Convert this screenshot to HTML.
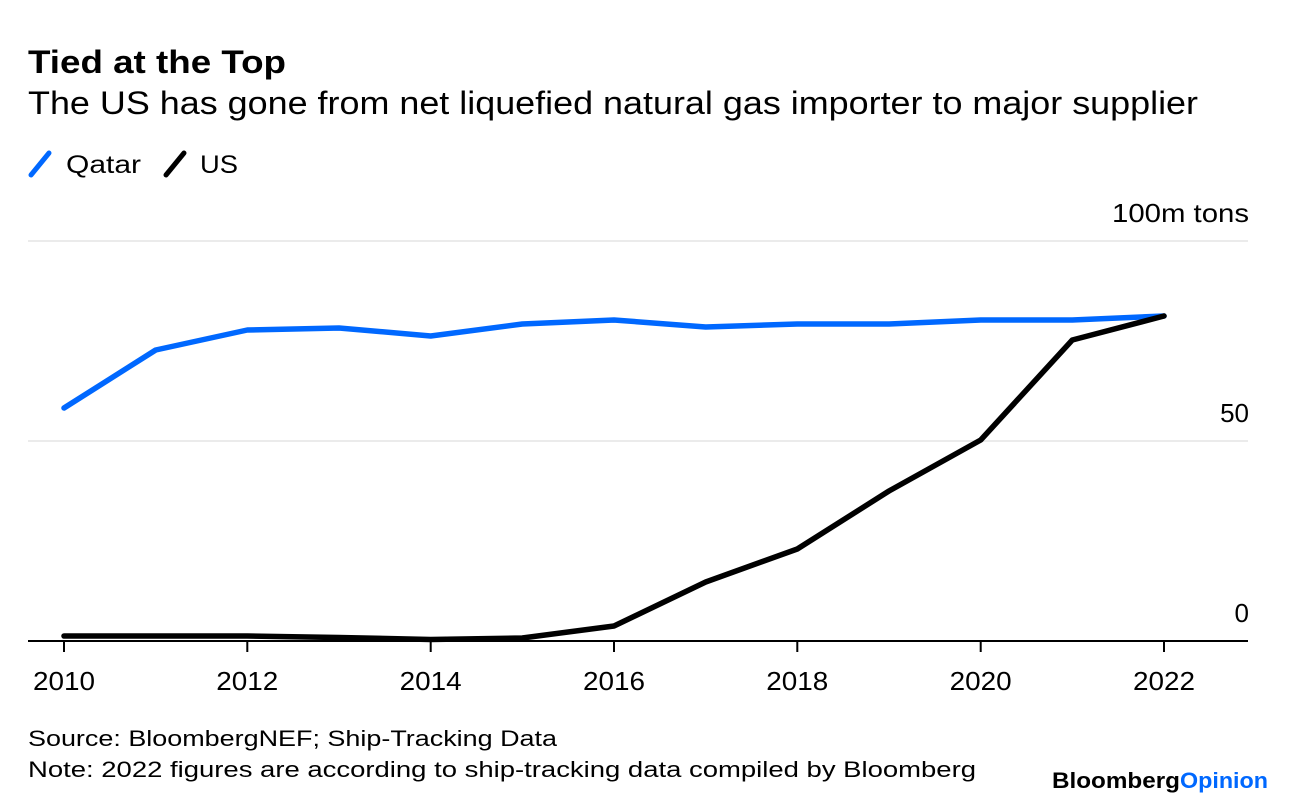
<!DOCTYPE html>
<html>
<head>
<meta charset="utf-8">
<style>
html,body{margin:0;padding:0;background:#fff;}
svg{display:block;}
text{font-family:"Liberation Sans",Arial,sans-serif;}
</style>
</head>
<body>
<svg width="1296" height="806" viewBox="0 0 1296 806" xmlns="http://www.w3.org/2000/svg">
<rect width="1296" height="806" fill="#fff"/>
<!-- Title -->
<text x="28" y="73" font-size="32" font-weight="bold" fill="#000" textLength="258" lengthAdjust="spacingAndGlyphs">Tied at the Top</text>
<text x="28" y="114" font-size="32" fill="#000" textLength="1170" lengthAdjust="spacingAndGlyphs">The US has gone from net liquefied natural gas importer to major supplier</text>
<!-- Legend -->
<line x1="31" y1="175" x2="49" y2="153" stroke="#0068ff" stroke-width="5" stroke-linecap="round"/>
<text x="66" y="173" font-size="25" fill="#000" textLength="75" lengthAdjust="spacingAndGlyphs">Qatar</text>
<line x1="166" y1="175" x2="184" y2="153" stroke="#000" stroke-width="5" stroke-linecap="round"/>
<text x="200" y="173" font-size="25" fill="#000" textLength="38" lengthAdjust="spacingAndGlyphs">US</text>
<!-- Gridlines -->
<line x1="28" y1="241" x2="1248" y2="241" stroke="#ebebeb" stroke-width="2"/>
<line x1="28" y1="441" x2="1248" y2="441" stroke="#ebebeb" stroke-width="2"/>
<!-- Y labels -->
<text x="1249" y="222" font-size="26" fill="#000" text-anchor="end" textLength="137" lengthAdjust="spacingAndGlyphs">100m tons</text>
<text x="1249" y="422" font-size="26" fill="#000" text-anchor="end">50</text>
<text x="1249" y="622" font-size="26" fill="#000" text-anchor="end">0</text>
<!-- Axis -->
<line x1="28" y1="641" x2="1248" y2="641" stroke="#000" stroke-width="2"/>
<g stroke="#000" stroke-width="2">
<line x1="64" y1="641" x2="64" y2="652"/>
<line x1="247.3" y1="641" x2="247.3" y2="652"/>
<line x1="430.7" y1="641" x2="430.7" y2="652"/>
<line x1="614" y1="641" x2="614" y2="652"/>
<line x1="797.3" y1="641" x2="797.3" y2="652"/>
<line x1="980.7" y1="641" x2="980.7" y2="652"/>
<line x1="1164" y1="641" x2="1164" y2="652"/>
</g>
<g font-size="26" fill="#000" text-anchor="middle">
<text x="64" y="690" textLength="62" lengthAdjust="spacingAndGlyphs">2010</text>
<text x="247.3" y="690" textLength="62" lengthAdjust="spacingAndGlyphs">2012</text>
<text x="430.7" y="690" textLength="62" lengthAdjust="spacingAndGlyphs">2014</text>
<text x="614" y="690" textLength="62" lengthAdjust="spacingAndGlyphs">2016</text>
<text x="797.3" y="690" textLength="62" lengthAdjust="spacingAndGlyphs">2018</text>
<text x="980.7" y="690" textLength="62" lengthAdjust="spacingAndGlyphs">2020</text>
<text x="1164" y="690" textLength="62" lengthAdjust="spacingAndGlyphs">2022</text>
</g>
<!-- Series -->
<polyline fill="none" stroke="#0068ff" stroke-width="5.5" stroke-linejoin="round" stroke-linecap="round"
points="64,408 155.7,350 247.3,330 339,328 430.7,336 522.3,324 614,320 705.7,327 797.3,324 889,324 980.7,320 1072.3,320 1164,316"/>
<polyline fill="none" stroke="#000" stroke-width="5.5" stroke-linejoin="round" stroke-linecap="round"
points="64,636 155.7,636 247.3,636 339,637.5 430.7,639.5 522.3,638 614,626 705.7,582 797.3,549 889,491 980.7,440 1072.3,340 1164,316"/>
<!-- Footer -->
<text x="28" y="746" font-size="22" fill="#000" textLength="529" lengthAdjust="spacingAndGlyphs">Source: BloombergNEF; Ship-Tracking Data</text>
<text x="28" y="777" font-size="22" fill="#000" textLength="948" lengthAdjust="spacingAndGlyphs">Note: 2022 figures are according to ship-tracking data compiled by Bloomberg</text>
<text x="1052" y="788" font-size="22" font-weight="bold" fill="#000" textLength="128" lengthAdjust="spacingAndGlyphs">Bloomberg</text>
<text x="1180" y="788" font-size="22" font-weight="bold" fill="#0068ff" textLength="88" lengthAdjust="spacingAndGlyphs">Opinion</text>
</svg>
</body>
</html>
